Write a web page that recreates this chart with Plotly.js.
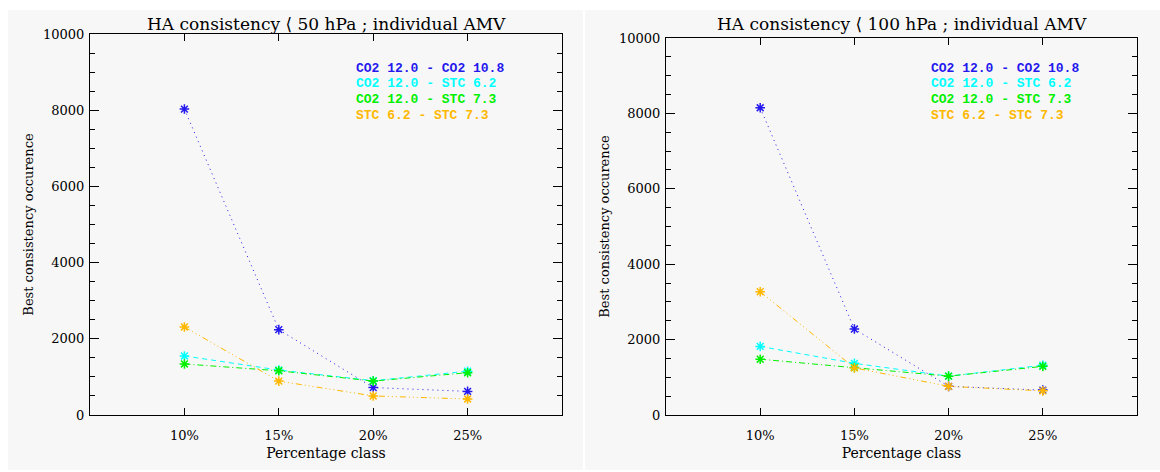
<!DOCTYPE html>
<html>
<head>
<meta charset="utf-8">
<script src="https://cdn.plot.ly/plotly-3.0.1.min.js"></script>
<style>html,body{margin:0;padding:0;background:#fff;}#chart{width:1160px;height:472px;}</style>
</head>
<body>
<div id="chart"></div>
<script>
const categories = ['10%', '15%', '20%', '25%'];
const seriesNames = ['CO2 12.0 - CO2 10.8', 'CO2 12.0 - STC 6.2', 'CO2 12.0 - STC 7.3', 'STC 6.2 - STC 7.3'];
// Panel 1: < 50 hPa
const blue50   = [8030, 2240, 720, 620];
const cyan50   = [1550, 1180, 900, 1150];
const green50  = [1340, 1160, 890, 1110];
const orange50 = [2310, 890, 500, 420];
// Panel 2: < 100 hPa
const blue100   = [8150, 2280, 760, 660];
const cyan100   = [1820, 1370, 1030, 1320];
const green100  = [1480, 1260, 1030, 1290];
const orange100 = [3270, 1250, 760, 640];
const titles = ['HA consistency \u27E8 50 hPa ; individual AMV', 'HA consistency \u27E8 100 hPa ; individual AMV'];
const yTickVals = [0, 2000, 4000, 6000, 8000, 10000];
const yTickText = ['0', '2000', '4000', '6000', '8000', '10000'];

const colors = ['#2418ee', '#00ffff', '#00f000', '#ffb800'];
const dashes = ['1px,4px', '5px,4px', '6px,3px,1px,3px', '6px,3px,1px,3px,1px,3px,1px,3px'];

const W = 1160, H = 472;
const panels = [
  {vals: [blue50, cyan50, green50, orange50], xa: 'x', ya: 'y'},
  {vals: [blue100, cyan100, green100, orange100], xa: 'x2', ya: 'y2'}
];
const traces = [];
panels.forEach(p => {
  p.vals.forEach((v, i) => {
    traces.push({
      type: 'scatter', mode: 'lines+markers', x: categories, y: v,
      xaxis: p.xa, yaxis: p.ya, name: seriesNames[i], showlegend: false,
      line: {color: colors[i], width: 1, dash: dashes[i]},
      marker: {symbol: 'asterisk-open', size: 8, color: colors[i], line: {color: colors[i], width: 1.5}}
    });
  });
});

const serif = 'DejaVu Serif, Liberation Serif, serif';
function xax(domain) {
  return {
    domain: domain, type: 'category', range: [-1, 4], categoryorder: 'array', categoryarray: categories,
    showline: true, linecolor: '#000', linewidth: 1, mirror: 'ticks',
    ticks: 'inside', ticklen: 7, tickcolor: '#000', tickwidth: 1,
    showgrid: false, zeroline: false,
    tickfont: {family: serif, size: 13, color: '#000'},
    ticklabelstandoff: 8,
    title: {text: 'Percentage class', font: {family: serif, size: 14, color: '#000'}, standoff: 6},
    automargin: false, fixedrange: true
  };
}
function yax(domain, anchor) {
  return {
    domain: domain, anchor: anchor, range: [0, 10000], tickvals: yTickVals, ticktext: yTickText,
    showline: true, linecolor: '#000', linewidth: 1, mirror: 'ticks',
    ticks: 'inside', ticklen: 9, tickcolor: '#000', tickwidth: 1,
    minor: {dtick: 500, ticks: 'inside', ticklen: 5, tickcolor: '#000', showgrid: false},
    showgrid: false, zeroline: false,
    tickfont: {family: serif, size: 13, color: '#000'},
    ticklabelstandoff: 2,
    title: {text: 'Best consistency occurence', font: {family: serif, size: 13, color: '#000'}, standoff: 6},
    automargin: false, fixedrange: true
  };
}

const annotations = [];
const titleX = [(90 + 562) / 2, (666 + 1137) / 2];
titleX.forEach((cx, k) => {
  annotations.push({xref: 'paper', yref: 'paper', x: cx / W, y: 1 - 24 / H, xanchor: 'center', yanchor: 'middle',
    text: titles[k], showarrow: false, font: {family: serif, size: 17, color: '#000'}});
});
const legX = [354, 929];
const legY = [68, 84, 99.5, 115];
legX.forEach(lx => {
  seriesNames.forEach((s, i) => {
    annotations.push({xref: 'paper', yref: 'paper', x: lx / W, y: 1 - legY[i] / H, xanchor: 'left', yanchor: 'middle',
      text: '<b>' + s + '</b>', showarrow: false, font: {family: 'Liberation Mono, DejaVu Sans Mono, monospace', size: 13, color: colors[i]}});
  });
});

const layout = {
  width: W, height: H, margin: {l: 0, r: 0, t: 0, b: 0},
  paper_bgcolor: '#ffffff', plot_bgcolor: 'rgba(0,0,0,0)',
  showlegend: false,
  xaxis: Object.assign(xax([90 / W, 562 / W]), {anchor: 'y'}),
  yaxis: yax([(H - 415) / H, (H - 34) / H], 'x'),
  xaxis2: Object.assign(xax([666 / W, 1137 / W]), {anchor: 'y2'}),
  yaxis2: yax([(H - 415) / H, (H - 38) / H], 'x2'),
  annotations: annotations,
  shapes: [
    {type: 'rect', xref: 'paper', yref: 'paper', x0: 8 / W, x1: 583 / W, y0: 1 - 470 / H, y1: 1 - 10 / H, fillcolor: '#f7f7f7', line: {width: 0}, layer: 'below'},
    {type: 'rect', xref: 'paper', yref: 'paper', x0: 585 / W, x1: 1, y0: 1 - 470 / H, y1: 1 - 10 / H, fillcolor: '#f7f7f7', line: {width: 0}, layer: 'below'}
  ]
};
Plotly.newPlot('chart', traces, layout, {displayModeBar: false, staticPlot: true});
</script>
</body>
</html>
